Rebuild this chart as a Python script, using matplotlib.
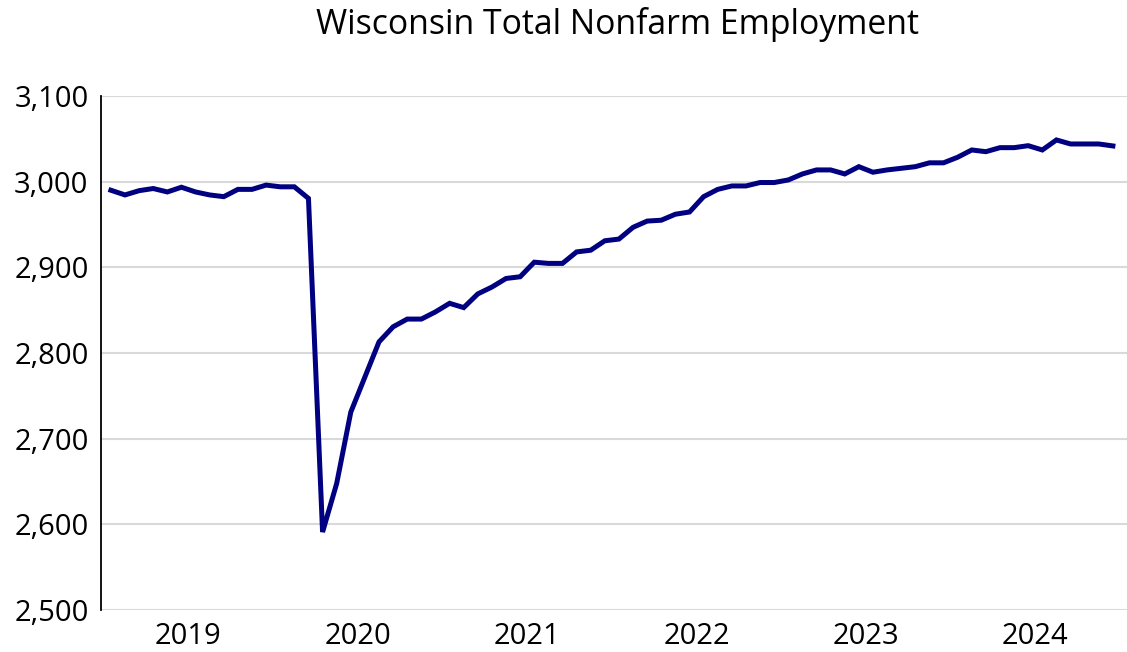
import matplotlib
matplotlib.use("Agg")
import matplotlib.pyplot as plt
import numpy as np

plt.rcParams['font.family'] = ['Open Sans', 'DejaVu Sans']

# Wisconsin total nonfarm employment (thousands), monthly Jan 2019 - Dec 2024
emp_2019 = [2990, 2984.5, 2989.5, 2992, 2988, 2993.5, 2988, 2984.5, 2982.5, 2991, 2991, 2996]
emp_2020 = [2994, 2994, 2980.5, 2591, 2647.7, 2731, 2772, 2813, 2830.6, 2839.6, 2839.6, 2848]
emp_2021 = [2858, 2853, 2869, 2877, 2887, 2889, 2906, 2904.6, 2904.6, 2918, 2920, 2931]
emp_2022 = [2933, 2946.7, 2954, 2955, 2962, 2964.6, 2982.5, 2991, 2995, 2995, 2999, 2999]
emp_2023 = [3002, 3009, 3013.7, 3013.7, 3009, 3017.5, 3011, 3013.7, 3015.6, 3017.5, 3022, 3022]
emp_2024 = [3028.5, 3037, 3035, 3039.7, 3039.7, 3042, 3037, 3048.7, 3044, 3044, 3044, 3041.7]
years = ['2019', '2020', '2021', '2022', '2023', '2024']

values = np.array(emp_2019 + emp_2020 + emp_2021 + emp_2022 + emp_2023 + emp_2024)
months = np.arange(len(values))

fig = plt.figure(figsize=(11.27, 6.52), dpi=100)
ax = fig.add_axes([101/1127, 42/652, 1 - 101/1127, 514/652])

ax.plot(months, values, color='#000080', linewidth=3.6, solid_joinstyle='miter')

ax.set_ylim(2500, 3100)
ax.set_xlim(-0.7, 72.0)
ax.set_yticks(np.arange(2500, 3101, 100))
ax.set_yticklabels([f"{v:,}" for v in range(2500, 3101, 100)])
ax.grid(axis='y', color='#d9d9d9', linewidth=1.5)
ax.set_axisbelow(True)

# year labels centred under each year's months
ax.set_xticks([])
ax.set_xticks([12 * i + 5.5 for i in range(len(years))], minor=True)
ax.set_xticklabels(years, minor=True)
ax.tick_params(axis='x', which='minor', length=0, pad=9, labelsize=21)
ax.tick_params(axis='y', length=0, pad=9, labelsize=21)

for s in ['top', 'right', 'bottom']:
    ax.spines[s].set_visible(False)
ax.spines['left'].set_color('black')
ax.spines['left'].set_linewidth(1.3)

fig.text(618/1127, 1 - 24/652, "Wisconsin Total Nonfarm Employment",
         ha='center', va='center', fontsize=24.3)

fig.savefig('out.png', dpi=100)
